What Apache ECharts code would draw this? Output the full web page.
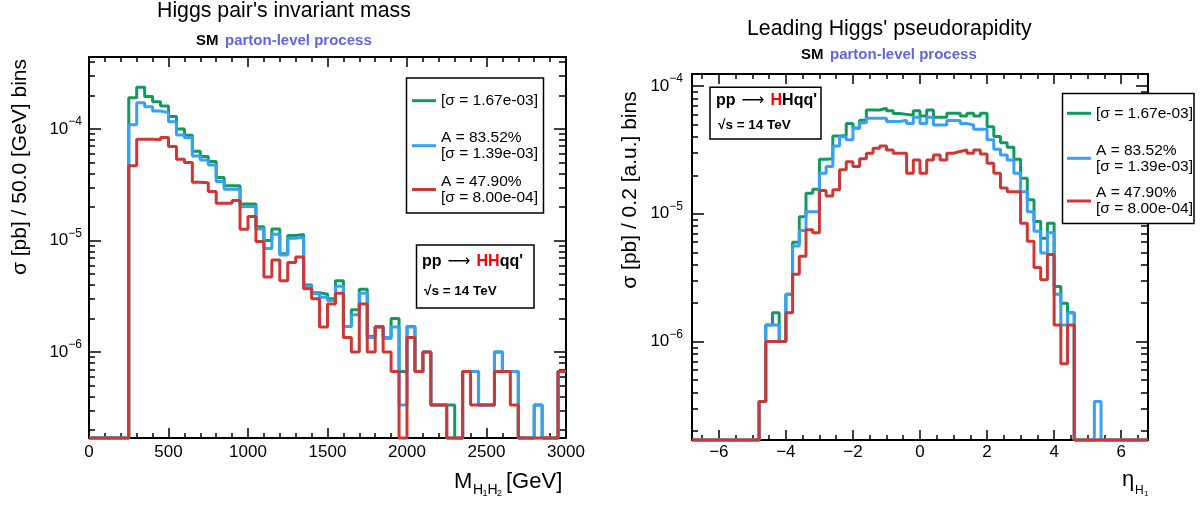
<!DOCTYPE html>
<html><head><meta charset="utf-8">
<script src="https://cdn.jsdelivr.net/npm/echarts@6/dist/echarts.min.js"></script>
<style>html,body{margin:0;padding:0;background:#fff}#c{width:1203px;height:505px}</style>
</head><body><div id="c"></div>
<script>
// ---------------- data ----------------
const seriesNames = ['[σ = 1.67e-03]', 'A = 83.52%\n[σ = 1.39e-03]', 'A = 47.90%\n[σ = 8.00e-04]'];
const seriesColors = ['#129a5e', '#38a0f6', '#cf3636'];

// M_H1H2 histogram: 60 bins of 50 GeV from 0 to 3000 GeV
const massLow = 0, massHigh = 3000, massBinWidth = 50;
const massTickLabels = [0, 500, 1000, 1500, 2000, 2500, 3000];
const massGreen = [0,0,0,0,0, 1.9e-4,2.36e-4,1.95e-4,1.75e-4,1.61e-4, 1.29e-4,1.0e-4,8.8e-5,6.3e-5,5.65e-5, 5.1e-5,3.67e-5,3.09e-5,3.09e-5,2.12e-5,
  2.12e-5,1.33e-5,1.0e-5,1.27e-5,7.6e-6, 1.11e-5,1.13e-5,4.0e-6,3.4e-6,3.3e-6, 3.0e-6,4.35e-6,1.7e-6,2.4e-6,3.66e-6, 1.38e-6,1.7e-6,1.33e-6,2.0e-6,6.7e-7,
  1.7e-6,6.7e-7,1.0e-6,3.36e-7,3.36e-7, 3.36e-7,0,6.7e-7,6.7e-7,3.36e-7, 3.36e-7,1.0e-6,6.7e-7,6.7e-7,0, 0,3.36e-7,0,0,6.7e-7];
const massBlue = [0,0,0,0,0, 1.09e-4,1.72e-4,1.58e-4,1.45e-4,1.4e-4, 1.16e-4,8.84e-5,8.4e-5,5.73e-5,5.28e-5, 4.76e-5,3.38e-5,2.88e-5,2.9e-5,2.02e-5,
  2.02e-5,1.27e-5,8.5e-6,1.14e-5,7.4e-6, 1.05e-5,1.07e-5,3.9e-6,3.33e-6,3.1e-6, 2.9e-6,3.9e-6,1.7e-6,2.16e-6,3.37e-6, 1.35e-6,1.68e-6,1.35e-6,1.68e-6,3.36e-7,
  1.68e-6,6.7e-7,1.0e-6,3.36e-7,3.36e-7, 0,0,6.7e-7,6.7e-7,3.36e-7, 3.36e-7,1.0e-6,6.7e-7,6.7e-7,0, 0,3.36e-7,0,0,6.7e-7];
const massRed = [0,0,0,0,0, 4.67e-5,8.1e-5,8.1e-5,8.0e-5,8.4e-5, 6.95e-5,5.35e-5,5.0e-5,3.33e-5,3.3e-5, 2.75e-5,2.16e-5,2.16e-5,2.28e-5,1.26e-5,
  1.64e-5,9.8e-6,4.7e-6,6.7e-6,4.35e-6, 6.35e-6,7.1e-6,3.7e-6,3.0e-6,1.68e-6, 2.7e-6,3.36e-6,1.35e-6,1.0e-6,2.7e-6, 1.0e-6,1.68e-6,1.0e-6,6.7e-7,0,
  1.35e-6,6.7e-7,1.0e-6,3.36e-7,3.36e-7, 0,0,6.7e-7,3.36e-7,3.36e-7, 3.36e-7,6.7e-7,6.7e-7,3.36e-7,0, 0,0,0,0,6.7e-7];

// eta_H1 histogram: 68 bins of 0.2 from -6.8 to 6.8
const etaLow = -6.8, etaHigh = 6.8, etaBinWidth = 0.2;
const etaTickLabels = [-6, -4, -2, 0, 2, 4, 6];
const etaGreen = [0,0,0,0,0,0,0,0,0,0,
  3.4e-7,1.35e-6,1.68e-6,1.0e-6,2.35e-6, 6.0e-6,9.5e-6,1.45e-5,1.56e-5,2.67e-5,
  2.7e-5,4.07e-5,4.1e-5,5.1e-5,4.7e-5, 5.4e-5,6.5e-5,6.5e-5,6.7e-5,6.4e-5,
  6.1e-5,6.0e-5,5.9e-5,6.4e-5,5.83e-5, 6.49e-5,5.69e-5,5.69e-5,6.11e-5,6.11e-5,
  5.83e-5,6.11e-5,5.83e-5,6.11e-5,4.81e-5, 4.02e-5,3.6e-5,3.32e-5,2.67e-5,1.9e-5,
  1.29e-5,8.7e-6,6.45e-6,8.45e-6,2.7e-6, 2.0e-6,1.68e-6,
  0,0,0,0,0,0,0,0,0,0,0];
const etaBlue = [0,0,0,0,0,0,0,0,0,0,
  3.4e-7,1.35e-6,1.35e-6,1.0e-6,2.35e-6, 5.6e-6,7.4e-6,1.04e-5,1.04e-5,2.08e-5,
  2.34e-5,3.4e-5,4.0e-5,3.79e-5,4.67e-5, 5.17e-5,5.59e-5,5.59e-5,5.59e-5,5.27e-5,
  5.27e-5,5.4e-5,5.1e-5,5.7e-5,5.1e-5, 5.69e-5,4.96e-5,4.96e-5,5.36e-5,5.36e-5,
  5.1e-5,4.96e-5,4.58e-5,4.58e-5,3.79e-5, 3.2e-5,2.89e-5,2.64e-5,2.08e-5,1.49e-5,
  1.04e-5,7.3e-6,4.93e-6,7.1e-6,2.35e-6, 1.35e-6,1.68e-6,
  0,0,0,3.4e-7,0,0,0,0,0,0,0];
const etaRed = [0,0,0,0,0,0,0,0,0,0,
  3.4e-7,1.0e-6,1.0e-6,1.0e-6,1.68e-6, 3.36e-6,4.65e-6,7.5e-6,7.1e-6,1.52e-5,
  1.38e-5,1.54e-5,2.21e-5,2.56e-5,2.35e-5, 2.7e-5,2.98e-5,3.26e-5,3.4e-5,3.16e-5,
  2.98e-5,2.98e-5,2.08e-5,2.64e-5,2.08e-5, 2.64e-5,2.89e-5,2.64e-5,2.98e-5,3.07e-5,
  3.16e-5,2.98e-5,3.16e-5,2.94e-5,2.49e-5, 2.08e-5,1.59e-5,1.49e-5,1.49e-5,8.45e-6,
  6.1e-6,3.8e-6,3.05e-6,4.8e-6,1.35e-6, 6.7e-7,1.35e-6,
  0,0,0,0,0,0,0,0,0,0,0];

// log10 exponents of the decade ticks
const decadeTicks = [-6, -5, -4];
// ---------------------------------------

const FONT = "'Liberation Sans', Arial, Helvetica, sans-serif";
const massLogRange = [-6.77, -3.355];
const etaLogRange = [-6.77, -3.906];

function toLog(v, floor) { return v > 0 ? Math.log10(v) : floor; }
function stepPoints(vals, x0, w, floor) {
  const d = vals.map((v, i) => [+(x0 + i * w).toFixed(4), toLog(v, floor)]);
  d.push([+(x0 + vals.length * w).toFixed(4), toLog(vals[vals.length - 1], floor)]);
  return d;
}
function minorLogTicks(range) {
  const out = [];
  for (let n = -8; n <= -3; n++) for (let k = 2; k <= 9; k++) {
    const v = n + Math.log10(k);
    if (v > range[0] && v < range[1]) out.push(v);
  }
  return out;
}
const tickLine = {color: '#000', width: 1.5};
const axisLineStyle = {show: true, onZero: false, lineStyle: {color: '#000', width: 2}};
const noLine = {show: false, onZero: false};
const powRich = {
  b: {fontFamily: FONT, fontSize: 17, color: '#000', lineHeight: 26},
  s: {fontFamily: FONT, fontSize: 12, color: '#000', lineHeight: 12, verticalAlign: 'top'}
};
function powLabel(v) { return '{b|10}{s|\u2212' + Math.round(-v) + '}'; }

function yAxes(gridIndex, range, margin, majorLen, minorLen) {
  const base = {gridIndex, type: 'value', min: range[0], max: range[1], splitLine: {show: false}, axisPointer: {show: false}};
  const minors = minorLogTicks(range);
  return [
    Object.assign({}, base, {position: 'left', axisLine: axisLineStyle,
      axisTick: {show: true, inside: true, length: majorLen, customValues: decadeTicks, lineStyle: tickLine},
      axisLabel: {show: true, customValues: decadeTicks, formatter: powLabel, rich: powRich, margin: margin}}),
    Object.assign({}, base, {position: 'left', axisLine: noLine,
      axisTick: {show: true, inside: true, length: minorLen, customValues: minors, lineStyle: tickLine},
      axisLabel: {show: false}}),
    Object.assign({}, base, {position: 'right', axisLine: axisLineStyle,
      axisTick: {show: true, inside: true, length: majorLen, customValues: decadeTicks, lineStyle: tickLine},
      axisLabel: {show: false}}),
    Object.assign({}, base, {position: 'right', axisLine: noLine,
      axisTick: {show: true, inside: true, length: minorLen + 1, customValues: minors, lineStyle: tickLine},
      axisLabel: {show: false}})
  ];
}

const xLabelStyle = {fontFamily: FONT, fontSize: 17, color: '#000'};
const massX = [0, 1].map(i => ({
  gridIndex: 0, type: 'value', min: massLow, max: massHigh, interval: 500,
  position: i === 0 ? 'bottom' : 'top',
  axisLine: axisLineStyle, splitLine: {show: false},
  axisTick: {show: true, inside: true, length: 10, lineStyle: tickLine},
  minorTick: {show: true, splitNumber: 5, length: 5, lineStyle: tickLine},
  axisLabel: i === 0 ? Object.assign({show: true, margin: 6, customValues: massTickLabels,
    formatter: v => String(v)}, xLabelStyle) : {show: false}
}));
const etaMinor = [];
for (let k = -13; k <= 13; k++) { if (k % 4 !== 0) etaMinor.push(k * 0.5); }
const etaX = [];
['bottom', 'top'].forEach((pos, i) => {
  etaX.push({gridIndex: 1, type: 'value', min: etaLow, max: etaHigh, position: pos,
    axisLine: axisLineStyle, splitLine: {show: false},
    axisTick: {show: true, inside: true, length: 10, customValues: etaTickLabels, lineStyle: tickLine},
    axisLabel: i === 0 ? Object.assign({show: true, margin: 4, customValues: etaTickLabels,
      formatter: v => v < 0 ? '\u2212' + (-v) : String(v)}, xLabelStyle) : {show: false}});
  etaX.push({gridIndex: 1, type: 'value', min: etaLow, max: etaHigh, position: pos,
    axisLine: noLine, splitLine: {show: false},
    axisTick: {show: true, inside: true, length: 5, customValues: etaMinor, lineStyle: tickLine},
    axisLabel: {show: false}});
});

const xAxis = massX.concat(etaX); // 0,1 mass ; 2..5 eta
const yAxis = yAxes(0, massLogRange, 7, 12, 6).concat(yAxes(1, etaLogRange, 9, 12, 6)); // 0..3 mass ; 4..7 eta

const series = [];
[massGreen, massBlue, massRed].forEach((vals, i) => series.push({
  name: seriesNames[i], type: 'line', step: 'end', xAxisIndex: 0, yAxisIndex: 0,
  data: stepPoints(vals, massLow, massBinWidth, massLogRange[0]),
  showSymbol: false, symbol: 'none', clip: false,
  lineStyle: {color: seriesColors[i], width: 3}, itemStyle: {color: seriesColors[i]}
}));
[etaGreen, etaBlue, etaRed].forEach((vals, i) => series.push({
  name: seriesNames[i], type: 'line', step: 'end', xAxisIndex: 2, yAxisIndex: 4,
  data: stepPoints(vals, etaLow, etaBinWidth, etaLogRange[0]),
  showSymbol: false, symbol: 'none', clip: false,
  lineStyle: {color: seriesColors[i], width: 3}, itemStyle: {color: seriesColors[i]}
}));

const legendCommon = {orient: 'vertical', padding: 0, itemWidth: 24, itemHeight: 3, itemGap: 0, icon: 'rect',
  selectedMode: false, z: 10, textStyle: {fontFamily: FONT, fontSize: 15.5, color: '#000', lineHeight: 16}};
const legendSpots = [[412, 92.7], [412, 129.7], [412, 173.5], [1067, 105.3], [1067, 142.3], [1067, 185]];
const legend = legendSpots.map((p, i) => Object.assign({}, legendCommon, {data: [seriesNames[i % 3]], left: p[0], top: p[1]}));

function txt(x, y, text, opts) {
  return Object.assign({type: 'text', x: x, y: y, z: 12,
    style: Object.assign({text: text, fontFamily: FONT, fontSize: 15, fill: '#000', align: 'left', verticalAlign: 'middle'}, opts || {})});
}
function box(x, y, w, h) {
  return {type: 'rect', z: 5, shape: {x: x, y: y, width: w, height: h}, style: {fill: '#fff', stroke: '#000', lineWidth: 1.5}};
}
const boldRich = (sz) => ({
  a: {fontFamily: FONT, fontSize: sz, fontWeight: 'bold', fill: '#000'},
  r: {fontFamily: "'DejaVu Sans', sans-serif", fontSize: sz, fill: '#000', width: 35, align: 'center'},
  h: {fontFamily: FONT, fontSize: sz, fontWeight: 'bold', fill: '#ff0000'}
});
const subtitleColor = '#6464dc';

const graphic = [
  // subtitles
  txt(196, 40.5, 'SM', {fontSize: 15, fontWeight: 'bold'}),
  txt(225, 40.5, 'parton-level process', {fontSize: 15, fontWeight: 'bold', fill: subtitleColor}),
  txt(801, 54.8, 'SM', {fontSize: 15, fontWeight: 'bold'}),
  txt(830, 54.8, 'parton-level process', {fontSize: 15, fontWeight: 'bold', fill: subtitleColor}),
  // y-axis titles
  Object.assign(txt(20, 167, 'σ [pb] / 50.0 [GeV] bins', {fontSize: 21, align: 'center'}), {rotation: Math.PI / 2}),
  Object.assign(txt(630, 190, 'σ [pb] / 0.2 [a.u.] bins', {fontSize: 21, align: 'center'}), {rotation: Math.PI / 2}),
  // x-axis titles
  txt(454, 482, 'M', {fontSize: 22}),
  txt(473, 490, 'H', {fontSize: 14}),
  txt(482.5, 494, '1', {fontSize: 9}),
  txt(487.5, 490, 'H', {fontSize: 14}),
  txt(497, 494, '2', {fontSize: 9}),
  txt(506, 482, '[GeV]', {fontSize: 22}),
  txt(1122, 480, 'η', {fontSize: 22}),
  txt(1135, 491, 'H', {fontSize: 12}),
  txt(1144, 494, '1', {fontSize: 8}),
  // legend boxes
  box(406.5, 78, 137, 135),
  box(1062.5, 93.5, 131.5, 130),
  // annotation boxes
  box(416.5, 245, 117.5, 63),
  txt(422, 261.7, "{a|pp}{r|\u27F6}{h|HH}{a|qq'}", {rich: boldRich(16)}),
  txt(424, 291.7, '√s = 14 TeV', {fontSize: 13.5, fontWeight: 'bold'}),
  box(710, 87.3, 111, 51.7),
  txt(716, 100.7, "{a|pp}{r|\u27F6}{h|H}{a|Hqq'}", {rich: boldRich(16)}),
  txt(718, 125.7, '√s = 14 TeV', {fontSize: 13.5, fontWeight: 'bold'})
];

const option = {
  animation: false,
  backgroundColor: '#fff',
  title: [
    {text: "Higgs pair's invariant mass", left: 157, top: 1, padding: 0,
     textStyle: {fontFamily: FONT, fontSize: 21.3, fontWeight: 'normal', color: '#000'}},
    {text: "Leading Higgs' pseudorapidity", left: 747, top: 18.5, padding: 0,
     textStyle: {fontFamily: FONT, fontSize: 21.3, fontWeight: 'normal', color: '#000'}}
  ],
  grid: [
    {left: 89, top: 57, width: 477, height: 381, containLabel: false},
    {left: 692, top: 74, width: 456, height: 366, containLabel: false}
  ],
  xAxis: xAxis,
  yAxis: yAxis,
  legend: legend,
  series: series,
  graphic: graphic
};
const chart = echarts.init(document.getElementById('c'));
chart.setOption(option);
</script>
</body></html>
